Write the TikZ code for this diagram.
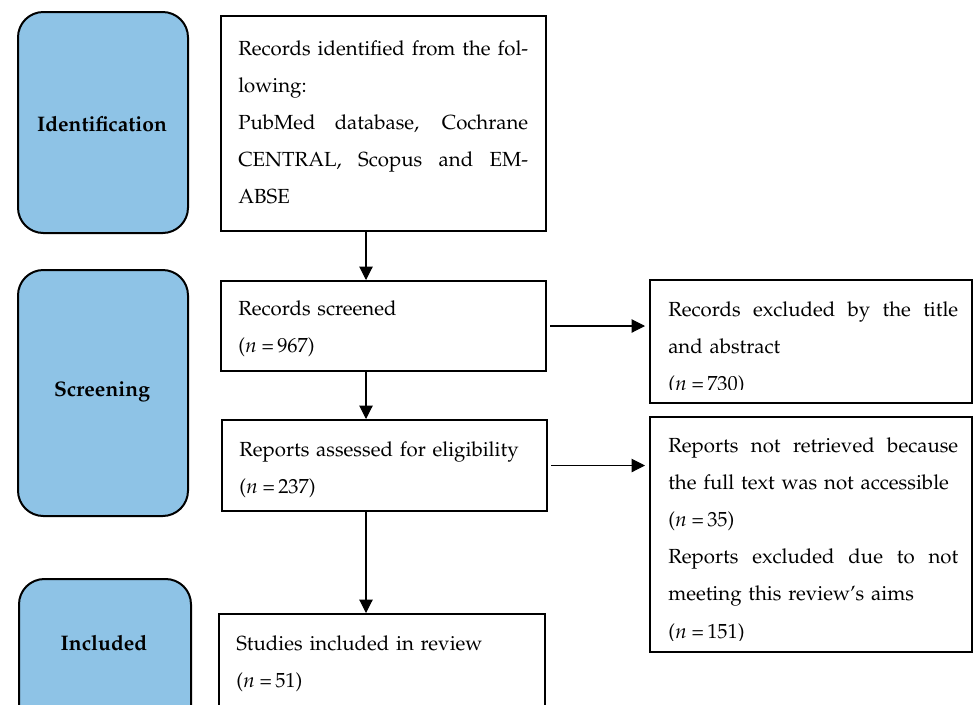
\documentclass[tikz,border=0pt]{standalone}
\usepackage[T1]{fontenc}
\usepackage{mathpazo}
\usetikzlibrary{arrows.meta}
\definecolor{stageblue}{RGB}{142,195,230}
\newcommand{\jl}[1]{{\spaceskip=0pt\xspaceskip=0pt\makebox[217.5pt][s]{#1}}}
\newcommand{\nn}[1]{($n$\kern3.5pt=\kern2.5pt#1)}
\begin{document}
\begin{tikzpicture}[x=0.75pt,y=-0.75pt,
  box/.style={draw, line width=1.5pt, inner sep=0, anchor=north west},
  stage/.style={draw, line width=1.5pt, fill=stageblue, rounded corners=19pt, inner sep=0, anchor=north west},
  txt/.style={anchor=base west, inner sep=0, text width=217.5pt, align=left, font=\fontsize{15.3}{27.9}\selectfont},
  lbl/.style={font=\fontsize{15.8}{18}\selectfont\bfseries, inner sep=0},
  arr/.style={line width=0.8pt, -{Triangle[length=10pt,width=10pt]}}]
\clip (0,0) rectangle (973,704);
\fill[white] (0,0) rectangle (973,704);
% stage boxes
\node[stage, minimum width=127.5pt, minimum height=165.75pt] (idst) at (17,11) {};
\node[stage, minimum width=127.5pt, minimum height=184.5pt] (scst) at (17,269) {};
\node[stage, minimum width=129pt, minimum height=136.5pt] (inst) at (18,578) {};
\node[lbl] (idlbl) at (102,124) {Identification};
\node[lbl] (sclbl) at (102,392) {Screening};
\node[lbl] (inlbl) at (104,643) {Included};
% texts
\node[txt] (idtxt) at (238,55) {\jl{Records identified from the fol-}\\lowing:\\\jl{PubMed database, Cochrane}\\\jl{CENTRAL, Scopus and EM-}\\ABSE};
\node[txt] (sctxt) at (238,315) {Records screened\\\nn{967}};
\node[txt] (astxt) at (239,456) {Reports assessed for eligibility\\\nn{237}};
\node[txt] (sttxt) at (236,650) {Studies included in review\\\nn{51}};
\begin{scope}
\clip (649,279) rectangle (971,389);
\node[txt] (extxt) at (668,316) {\jl{Records excluded by the title}\\and abstract\\\nn{730}};
\end{scope}
\begin{scope}
\clip (649,416) rectangle (971,640);
\node[txt] (nrtxt) at (668,452) {\jl{Reports not retrieved because}\\the full text was not accessible\\\nn{35}\\\jl{Reports excluded due to not}\\meeting this review's aims\\\nn{151}};
\end{scope}
% boxes
\node[box, minimum width=243.75pt, minimum height=161.25pt] (idbox) at (220,15) {};
\node[box, minimum width=243.75pt, minimum height=67.5pt] (scbox) at (220,280) {};
\node[box, minimum width=243.75pt, minimum height=68.25pt] (asbox) at (221,419) {};
\node[box, minimum width=244.5pt, minimum height=95.25pt] (stbox) at (218,613) {};
\node[box, minimum width=241.5pt, minimum height=92.25pt] (exbox) at (649,279) {};
\node[box, minimum width=241.5pt, minimum height=176.25pt] (nrbox) at (649,416) {};
% connectors
\coordinate (col) at (366,0);
\draw[arr] (idbox.south -| col) -- (scbox.north -| col);
\draw[arr] (scbox.south -| col) -- (asbox.north -| col);
\draw[arr] (asbox.south -| col) -- (stbox.north -| col);
\draw[arr, shorten <=2.25pt, shorten >=3pt] (scbox.east) -- (scbox.east -| exbox.west);
\draw[arr, shorten <=2.25pt, shorten >=3pt] (asbox.east) -- (asbox.east -| nrbox.west);
\end{tikzpicture}
\end{document}
